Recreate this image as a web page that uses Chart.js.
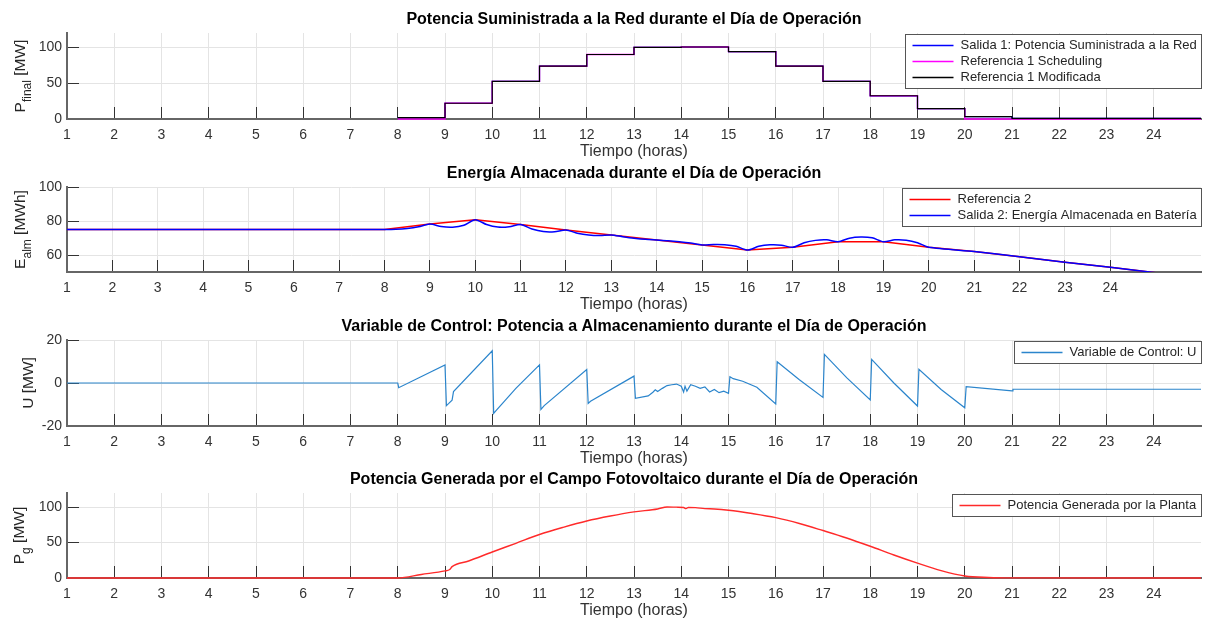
<!DOCTYPE html>
<html>
<head>
<meta charset="utf-8">
<script src="https://cdn.jsdelivr.net/npm/chart.js@4.4.1/dist/chart.umd.min.js"></script>
<style>
  body { margin: 0; background: #fff; width: 1208px; height: 624px; position: relative; overflow: hidden; }
  canvas { position: absolute; left: 0; }
</style>
</head>
<body>
<canvas id="c1" width="1208" height="161" style="top:3px"></canvas>
<canvas id="c2" width="1208" height="160" style="top:157px"></canvas>
<canvas id="c3" width="1208" height="161" style="top:310px"></canvas>
<canvas id="c4" width="1208" height="160" style="top:463px"></canvas>
<script>
const FONT = '"Liberation Sans", Arial, Helvetica, sans-serif';

// x tick labels (hours)
const hourTicks = [1,2,3,4,5,6,7,8,9,10,11,12,13,14,15,16,17,18,19,20,21,22,23,24];

// subplot 1: hourly step values (value holds from t to t+1)
const hourStarts = [8,9,10,11,12,13,14,15,16,17,18,19,20,21,22,23,24,25];
const pOut   = [2,22,52.5,73.7,90,100,100.5,94,73.7,52.5,32.4,14.5,3.3,0.8,0.8,0.8,0.8,0.8];
const pSched = [0,22,52.5,73.7,90,100,100.5,94,73.7,52.5,32.4,14.5,0,0,0,0,0,0];
const pMod   = [2,22,52.5,73.7,90,100,100.5,94,73.7,52.5,32.4,14.5,3.3,0.8,0.8,0.8,0.8,0.8];
const p1Ticks = [0, 50, 100];

// subplot 2: stored energy
const eRefT = [1,8,9,10,11,12,13,14,15,16,17,18,19,20,21,22,23,24,25];
const eRef  = [75,75,78.2,80.8,78,74.7,71.8,68.8,65.9,62.9,64.5,67.8,67.8,64.5,62,59,55.7,52.8,49.6];
const eOutT = [1,8,8.25,8.5,8.75,9,9.25,9.5,9.75,10,10.25,10.5,10.75,11,11.25,11.5,11.75,12,12.25,12.5,12.75,
               13,13.25,13.5,13.75,14,14.25,14.5,14.75,15,15.25,15.5,15.75,16,16.25,16.5,16.75,17,17.25,17.5,17.75,
               18,18.25,18.5,18.75,19,19.25,19.5,19.75,20,21,22,23,24,25];
const eOut  = [75,75,75.1,75.6,76.6,78.2,76.7,76.3,77.5,80.8,77.9,76.4,76.6,78,75.3,73.8,73.7,74.7,72.8,71.7,71.4,
               71.8,70.8,69.9,69.2,68.8,68.4,67.8,67,65.9,66.2,66.1,65.2,62.9,65.1,66,65.8,64.5,67.2,68.6,68.9,
               67.8,69.9,70.6,70.1,67.8,68.9,68.7,67.2,64.5,62,59,55.7,52.8,49.6];
const e2Ticks = [60, 80, 100];

// subplot 3: control variable
const uT = [1,8,8.02,9,9.03,9.08,9.15,9.18,10,10.03,10.08,10.5,11,11.03,11.1,12,12.03,12.08,13,13.03,13.3,13.4,13.45,
            13.5,13.6,13.7,13.8,13.9,14,14.05,14.08,14.12,14.2,14.3,14.4,14.5,14.6,14.7,14.8,14.9,15,15.03,15.1,15.3,
            15.6,16,16.03,16.5,17,17.03,17.5,18,18.03,18.5,19,19.03,19.5,20,20.03,21,21.02,25];
const uVal = [0,0,-2.2,8.4,-10.5,-9.5,-8,-4,15,-14.1,-12.8,-2.5,8.4,-12.3,-10.5,6.3,-9.5,-8.5,3.2,-7.1,-6,-4.3,-3.2,
              -4,-2.5,-1.2,-0.8,-0.5,-1.5,-4.2,-1.5,-3.8,-0.8,-1.5,-2.5,-1.8,-4.2,-3,-4.5,-3.8,-4.8,2.9,2,0.8,
              -2,-9.8,9.9,1.5,-6.7,13.3,2.5,-7.9,11,0,-10.7,6.4,-3,-11.5,-1.7,-3.7,-2.9,-2.9];
const u3Ticks = [-20, 0, 20];

// subplot 4: PV generated power
const gT = [1,8,8.5,9,9.1,9.15,9.5,10,10.5,11,11.5,12,12.5,13,13.5,13.7,13.9,14.05,14.1,14.15,14.3,14.5,14.7,15,15.5,
            16,16.5,17,17.5,18,18.5,19,19.5,20,20.5,21,25];
const gVal = [0,0,5,10,12,16,24,36.7,49,61.4,71.5,80.5,87.5,93.3,97.5,100.3,100,99.5,98,99.6,99.3,98,97.5,95.7,91,
              85.2,77,67,56.5,44.8,32.5,21,10.5,2.9,0.8,0.2,0];
const g4Ticks = [0, 50, 100];

const pts = (xs, ys) => xs.map((x, i) => ({ x: x, y: ys[i] }));

// MATLAB-like boxed legend in the upper right corner of the axes
const boxLegend = {
  id: 'boxLegend',
  afterDatasetsDraw(chart) {
    const ctx = chart.ctx, a = chart.chartArea;
    const items = chart.data.datasets.map((d, i) => ({ label: d.label, opts: chart.getDatasetMeta(i).dataset.options }));
    ctx.save();
    ctx.font = '13px ' + FONT;
    const tw = Math.max(...items.map(d => ctx.measureText(d.label).width));
    const w = Math.round(7 + 41 + 7 + tw + 5), h = items.length * 16 + 6;
    const x0 = Math.round(a.right - w) + 0.5, y0 = Math.round(a.top) + 1.5;
    ctx.fillStyle = '#fff';
    ctx.fillRect(x0, y0, w, h);
    ctx.strokeStyle = '#555';
    ctx.lineWidth = 1;
    ctx.strokeRect(x0, y0, w, h);
    items.forEach((d, i) => {
      const cy = y0 + 3 + 8 + i * 16;
      ctx.strokeStyle = d.opts.borderColor;
      ctx.lineWidth = 1.5;
      ctx.beginPath();
      ctx.moveTo(x0 + 7, cy);
      ctx.lineTo(x0 + 48, cy);
      ctx.stroke();
      ctx.fillStyle = '#262626';
      ctx.textBaseline = 'middle';
      ctx.textAlign = 'left';
      ctx.fillText(d.label, x0 + 55, cy);
    });
    ctx.restore();
  }
};

// y-axis label with subscript
const yLabel = {
  id: 'yLabel',
  afterDraw(chart, args, o) {
    const ctx = chart.ctx, a = chart.chartArea;
    const big = '15.5px ' + FONT, small = '12px ' + FONT;
    ctx.save();
    ctx.font = big;
    const wm = ctx.measureText(o.main).width, wr = ctx.measureText(o.rest).width;
    ctx.font = small;
    const ws = o.sub ? ctx.measureText(o.sub).width : 0;
    ctx.translate(o.x, (a.top + a.bottom) / 2);
    ctx.rotate(-Math.PI / 2);
    ctx.fillStyle = '#262626';
    ctx.textBaseline = 'alphabetic';
    ctx.textAlign = 'left';
    let x = -(wm + ws + wr) / 2;
    ctx.font = big;
    ctx.fillText(o.main, x, 0);
    x += wm;
    if (o.sub) {
      ctx.font = small;
      ctx.fillText(o.sub, x, 6);
      x += ws;
    }
    ctx.font = big;
    ctx.fillText(o.rest, x, 0);
    ctx.restore();
  }
};

function subplot(id, o) {
  return new Chart(document.getElementById(id), {
    type: 'line',
    data: { datasets: o.datasets },
    options: {
      responsive: false,
      animation: false,
      events: [],
      layout: { padding: { left: 0, right: 7, top: 0, bottom: 0 } },
      elements: { point: { radius: 0 } },
      plugins: {
        legend: { display: false },
        tooltip: { enabled: false },
        title: {
          display: true, text: o.title, fullSize: false, color: '#000',
          font: { family: FONT, size: 16, weight: 'bold', lineHeight: 1.2 },
          padding: { top: 6.5, bottom: 4.3 }
        },
        yLabel: o.ylabel
      },
      scales: {
        x: {
          type: 'linear', min: 1, max: o.xmax,
          afterBuildTicks: s => { s.ticks = hourTicks.map(v => ({ value: v })); },
          afterFit: s => { s.height = 45; },
          border: { color: '#666', width: 2 },
          grid: { color: '#e4e4e4', tickColor: '#333', tickLength: -12 },
          ticks: { padding: 20, color: '#333', maxRotation: 0, autoSkip: false, font: { family: FONT, size: 14 } },
          title: {
            display: true, text: 'Tiempo (horas)', color: '#333',
            font: { family: FONT, size: 16, lineHeight: 1 }, padding: { top: 0, bottom: 4 }
          }
        },
        y: {
          min: o.ymin, max: o.ymax,
          afterBuildTicks: s => { s.ticks = o.yticks.map(v => ({ value: v })); },
          afterFit: s => { s.width = 67; },
          border: { color: '#666', width: 2 },
          grid: { color: '#e4e4e4', tickColor: '#333', tickLength: -12 },
          ticks: { padding: 17, color: '#333', font: { family: FONT, size: 14 } }
        }
      }
    },
    plugins: [boxLegend, yLabel]
  });
}

// lower "order" is drawn on top; legend keeps the array order
subplot('c1', {
  title: 'Potencia Suministrada a la Red durante el Día de Operación',
  xmax: 25, ymin: 0, ymax: 120, yticks: p1Ticks,
  ylabel: { x: 25, main: 'P', sub: 'final', rest: ' [MW]' },
  datasets: [
    { label: 'Salida 1: Potencia Suministrada a la Red', data: pts(hourStarts, pOut), stepped: true,
      borderColor: '#0000ff', borderWidth: 1.2, order: 2, clip: 3 },
    { label: 'Referencia 1 Scheduling', data: pts(hourStarts, pSched), stepped: true,
      borderColor: '#ff00ff', borderWidth: 1.4, order: 1, clip: 3 },
    { label: 'Referencia 1 Modificada', data: pts(hourStarts, pMod), stepped: true,
      borderColor: '#000000', borderWidth: 1.15, order: 0, clip: 3 }
  ]
});

subplot('c2', {
  title: 'Energía Almacenada durante el Día de Operación',
  xmax: 26, ymin: 50, ymax: 100, yticks: e2Ticks,
  ylabel: { x: 25, main: 'E', sub: 'alm', rest: ' [MWh]' },
  datasets: [
    { label: 'Referencia 2', data: pts(eRefT, eRef), borderColor: '#ff0000', borderWidth: 1.5, tension: 0, order: 1 },
    { label: 'Salida 2: Energía Almacenada en Batería', data: pts(eOutT, eOut), borderColor: '#0000ff',
      borderWidth: 1.5, tension: 0.25, order: 0 }
  ]
});

subplot('c3', {
  title: 'Variable de Control: Potencia a Almacenamiento durante el Día de Operación',
  xmax: 25, ymin: -20, ymax: 20, yticks: u3Ticks,
  ylabel: { x: 33, main: 'U', sub: '', rest: ' [MW]' },
  datasets: [
    { label: 'Variable de Control: U', data: pts(uT, uVal), borderColor: '#2b85cc', borderWidth: 1.2, tension: 0 }
  ]
});

subplot('c4', {
  title: 'Potencia Generada por el Campo Fotovoltaico durante el Día de Operación',
  xmax: 25, ymin: 0, ymax: 120, yticks: g4Ticks,
  ylabel: { x: 24, main: 'P', sub: 'g', rest: ' [MW]' },
  datasets: [
    { label: 'Potencia Generada por la Planta', data: pts(gT, gVal), borderColor: '#ff2a2a', borderWidth: 1.4,
      cubicInterpolationMode: 'monotone', clip: 3 }
  ]
});
</script>
</body>
</html>
